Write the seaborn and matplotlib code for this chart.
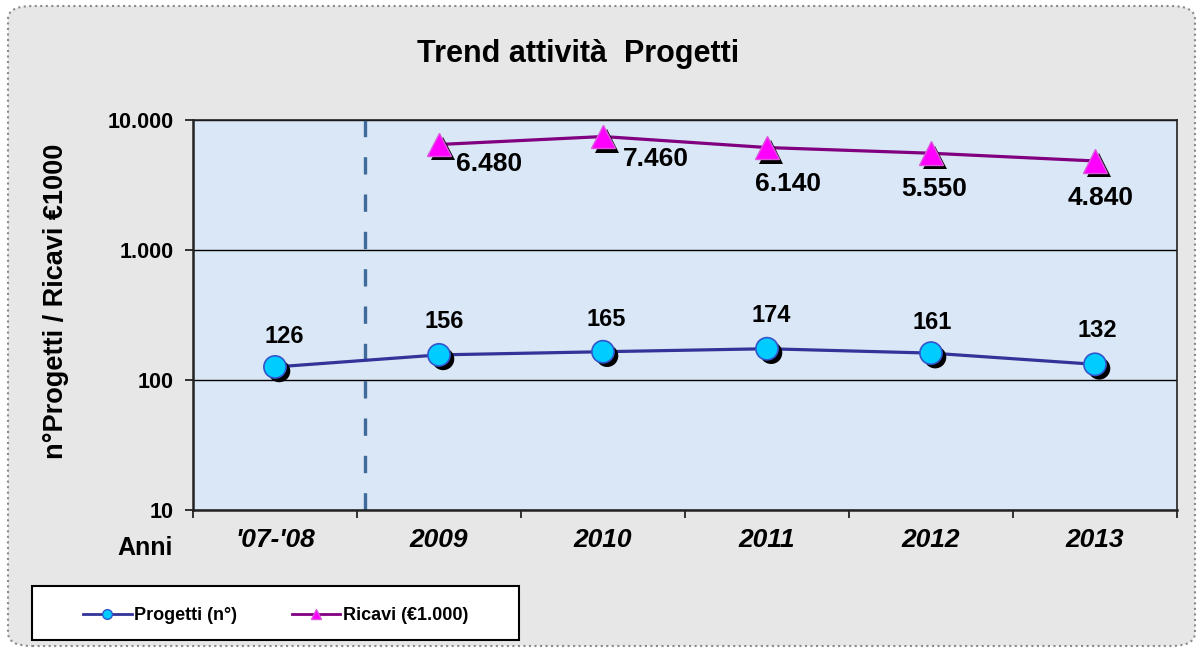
import matplotlib
matplotlib.use("Agg")
import matplotlib.pyplot as plt
import matplotlib.patheffects as pe
from matplotlib.patches import FancyBboxPatch, Rectangle
from matplotlib.lines import Line2D
import seaborn as sns
import numpy as np
import pandas as pd

# data
anni = ["'07-'08", "2009", "2010", "2011", "2012", "2013"]
progetti = [126, 156, 165, 174, 161, 132]
ricavi = [np.nan, 6480, 7460, 6140, 5550, 4840]

plt.rcParams['font.family'] = ['Liberation Sans', 'DejaVu Sans']
plt.rcParams['font.weight'] = 'bold'

def fmt(v):
    return f"{v:,.0f}".replace(",", ".")

pos = np.arange(len(anni))
df = pd.concat([
    pd.DataFrame({'pos': pos, 'valore': progetti, 'serie': 'Progetti (n°)'}),
    pd.DataFrame({'pos': pos, 'valore': ricavi, 'serie': 'Ricavi (€1.000)'}),
]).dropna()

col_prog, col_ric = '#333399', '#800080'

fig = plt.figure(figsize=(12.03, 6.52), dpi=100, facecolor='white')
# rounded background panel
bg = FancyBboxPatch((8/1203, 6/652), 1187/1203, 640/652,
                    boxstyle="round,pad=0,rounding_size=0.02",
                    transform=fig.transFigure, facecolor='#e7e7e7',
                    edgecolor='#8a8a8a', linestyle=':', linewidth=1.5, zorder=-10)
fig.patches.append(bg)

ax = fig.add_axes([193/1203, 142/652, 984/1203, 390/652])
ax.set_facecolor('#dae7f6')

sns.lineplot(data=df, x='pos', y='valore', hue='serie',
             palette={'Progetti (n°)': col_prog, 'Ricavi (€1.000)': col_ric},
             linewidth=2.3, legend=False, ax=ax, sort=False, zorder=3)

shadow = [pe.SimplePatchShadow(offset=(3, -3), shadow_rgbFace='black', alpha=1.0), pe.Normal()]
ax.plot(pos, progetti, ls='none', marker='o', ms=16, mfc='#00ccff', mec='#3355cc',
        mew=1.2, path_effects=shadow, zorder=4)
ax.plot(pos, ricavi, ls='none', marker='^', ms=17, mfc='#ff00ff', mec='#dd55dd',
        mew=1.0, path_effects=shadow, zorder=4)

ax.set_yscale('log')
ax.set_ylim(10, 10000)
ax.set_xlim(-0.5, len(anni) - 0.5)

# data labels
prog_off = [(7, 22), (4, 24), (2, 23), (3, 24), (1, 22), (2, 24)]
for x, v, (dx, dy) in zip(pos, progetti, prog_off):
    ax.annotate(str(v), (x, v), xytext=(dx, dy), textcoords='offset points',
                ha='center', va='center', fontsize=17, fontweight='bold', zorder=5)
ric_off = [None, (36, -14), (38, -16), (15, -26), (2, -26), (4, -27)]
for x, v, off in zip(pos, ricavi, ric_off):
    if np.isnan(v):
        continue
    ax.annotate(fmt(v), (x, v), xytext=off, textcoords='offset points',
                ha='center', va='center', fontsize=19, fontweight='bold', zorder=5)

ax.axvline(0.55, color='#3f6a9a', lw=2.4, dashes=(5.2, 6), zorder=2)

# grid & spines
ax.yaxis.grid(True, color='black', lw=1.0)
ax.set_axisbelow(True)
for s in ax.spines.values():
    s.set_color('#222222')
    s.set_linewidth(1.2)
ax.spines['left'].set_linewidth(1.8)
ax.spines['bottom'].set_linewidth(1.8)

ax.set_yticks([10, 100, 1000, 10000])
ax.set_yticklabels([fmt(t) for t in [10, 100, 1000, 10000]], fontsize=15.5, fontweight='bold')
ax.yaxis.set_minor_locator(matplotlib.ticker.NullLocator())
ax.tick_params(axis='y', which='major', direction='out', length=6, width=1.3, pad=8, color='#222222')

ax.set_xticks(np.arange(-0.5, len(anni), 1.0))
ax.set_xticklabels([])
ax.set_xticks(pos, minor=True)
ax.set_xticklabels(anni, minor=True, fontsize=19, fontweight='bold', fontstyle='italic')
ax.tick_params(axis='x', which='major', direction='out', length=6, width=1.3, color='#222222')
ax.tick_params(axis='x', which='minor', length=0, pad=13)
ax.set_xlabel('')
ax.set_ylabel('')

fig.text(578/1203, 1 - 54/652, 'Trend attività  Progetti', ha='center', va='center',
         fontsize=22, fontweight='bold')
fig.text(56/1203, 1 - 301/652, 'n°Progetti / Ricavi €1000', rotation=90,
         ha='center', va='center', fontsize=19.5, fontweight='bold')
fig.text(145/1203, 1 - 548/652, 'Anni', ha='center', va='center',
         fontsize=18, fontweight='bold')

# legend box
fig.patches.append(Rectangle((32/1203, 12/652), 487/1203, 54/652, transform=fig.transFigure,
                             facecolor='white', edgecolor='black', linewidth=1.5, zorder=1))
handles = [
    Line2D([], [], color=col_prog, lw=2, marker='o', ms=7, mfc='#00ccff', mec='#3355cc'),
    Line2D([], [], color=col_ric, lw=2, marker='^', ms=7, mfc='#ff00ff', mec='#dd55dd'),
]
leg = fig.legend(handles, ['Progetti (n°)', 'Ricavi (€1.000)'], ncol=2,
                 loc='center left', bbox_to_anchor=(83/1203, 1 - 616/652),
                 fontsize=13, handlelength=2.7, handletextpad=0.15, columnspacing=3.0,
                 frameon=False, borderpad=0, borderaxespad=0)
leg.set_zorder(2)
for t in leg.get_texts():
    t.set_fontweight('bold')

fig.savefig('out.png', dpi=100, facecolor=fig.get_facecolor())
